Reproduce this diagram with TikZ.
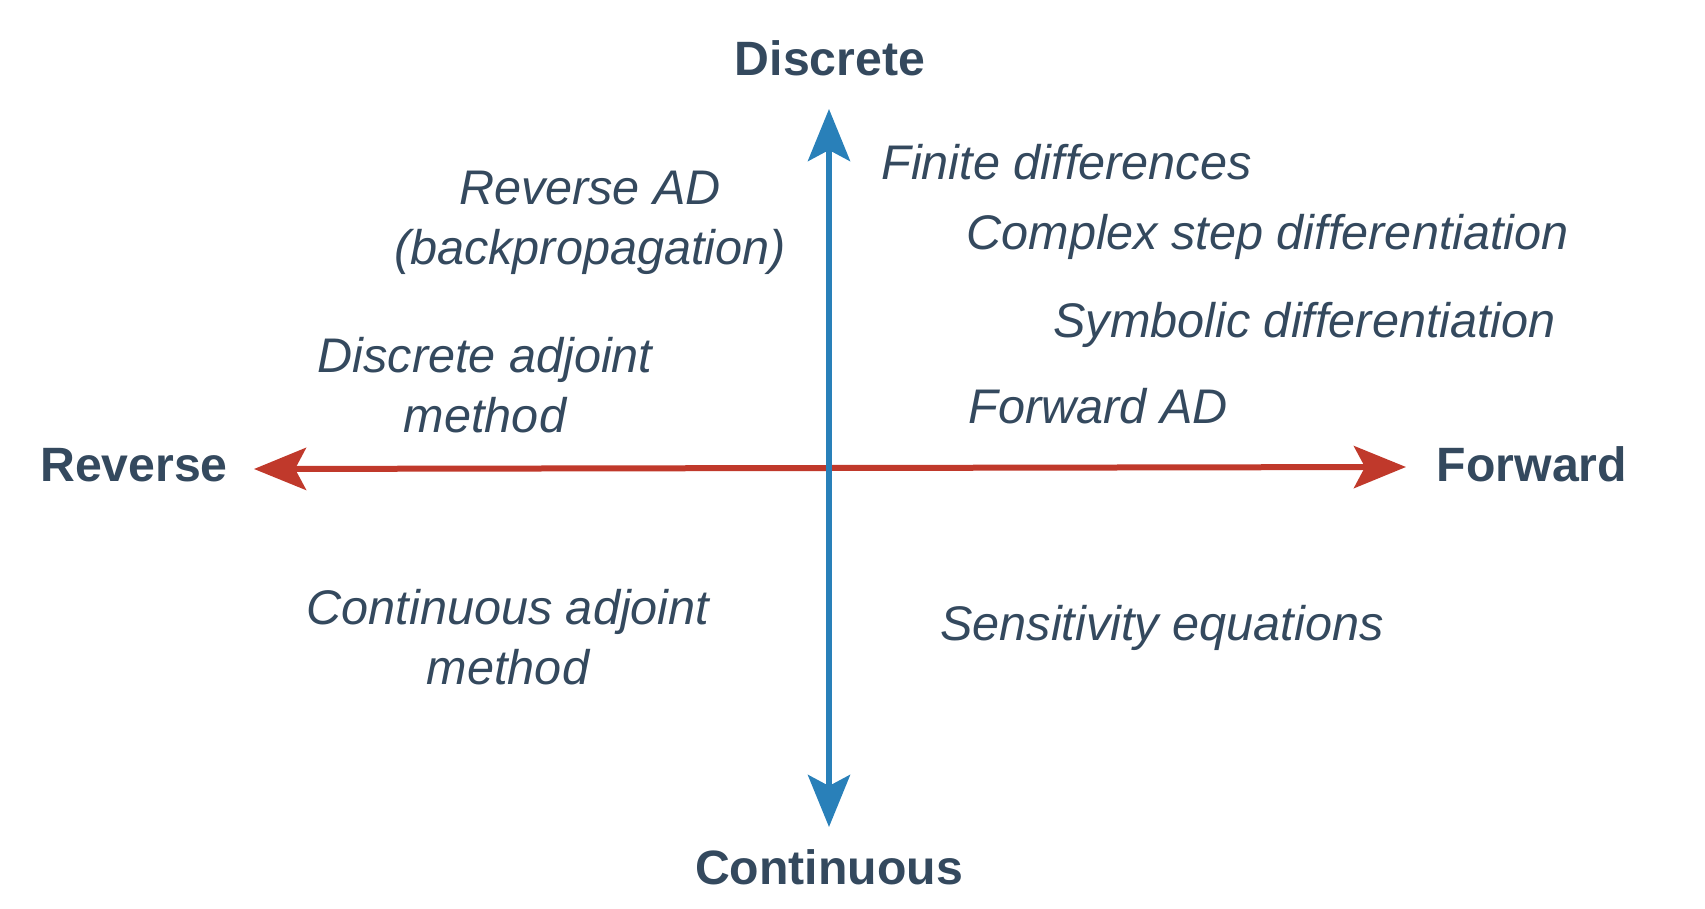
\documentclass[tikz,border=0pt]{standalone}
\usepackage{fontspec}
\setmainfont{Liberation Sans}
\usetikzlibrary{arrows.meta}
\definecolor{AxisBlue}{HTML}{2980B9}
\definecolor{AxisRed}{HTML}{C0392B}
\definecolor{TextSlate}{HTML}{34495E}

\begin{document}
\begin{tikzpicture}[x=0.5pt,y=-0.5pt,>={Stealth[length=26pt,width=21pt,inset=5.5pt]}]
  \tikzstyle{axislabel}=[inner sep=0pt,text=TextSlate,
    font=\fontsize{24.1}{30}\selectfont\bfseries]
  \tikzstyle{method}=[inner sep=0pt,text=TextSlate,align=center,
    font=\fontsize{24.3}{30}\selectfont\itshape]
  \useasboundingbox (0,0) rectangle (1705,909);
  % axis ends
  \coordinate (xleft) at (254,469);
  \coordinate (xright) at (1406,467);
  \coordinate (ytop) at (829,109);
  \coordinate (ybot) at (829,827);
  \node[axislabel,anchor=base] (discrete) at (830,76) {Discrete};
  \node[axislabel,anchor=base] (continuous) at (829,884) {Continuous};
  \node[axislabel,anchor=base] (reverse) at (134,481) {Reverse};
  \node[axislabel,anchor=base] (forward) at (1532,481) {Forward};
  \draw[<->,line width=3pt,color=AxisRed] (xleft)--(xright);
  \draw[<->,line width=3pt,color=AxisBlue] (ybot)--(ytop);
  % methods
  \node[method,anchor=base west] (finite) at (881,180) {Finite differences};
  \node[method,anchor=base west] (complex) at (966,250) {Complex step differentiation};
  \node[method,anchor=base west] (symbolic) at (1053,338) {Symbolic differentiation};
  \node[method,anchor=base west] (fwdad) at (968,424) {Forward AD};
  \node[method,anchor=base west] (sensitivity) at (940,640) {Sensitivity equations};
  \node[method,anchor=north] (revad) at (590,171) {Reverse AD\\(backpropagation)};
  \node[method,anchor=north] (discadj) at (485,337) {Discrete adjoint\\method};
  \node[method,anchor=north] (contadj) at (508,589) {Continuous adjoint\\method};
\end{tikzpicture}
\end{document}
